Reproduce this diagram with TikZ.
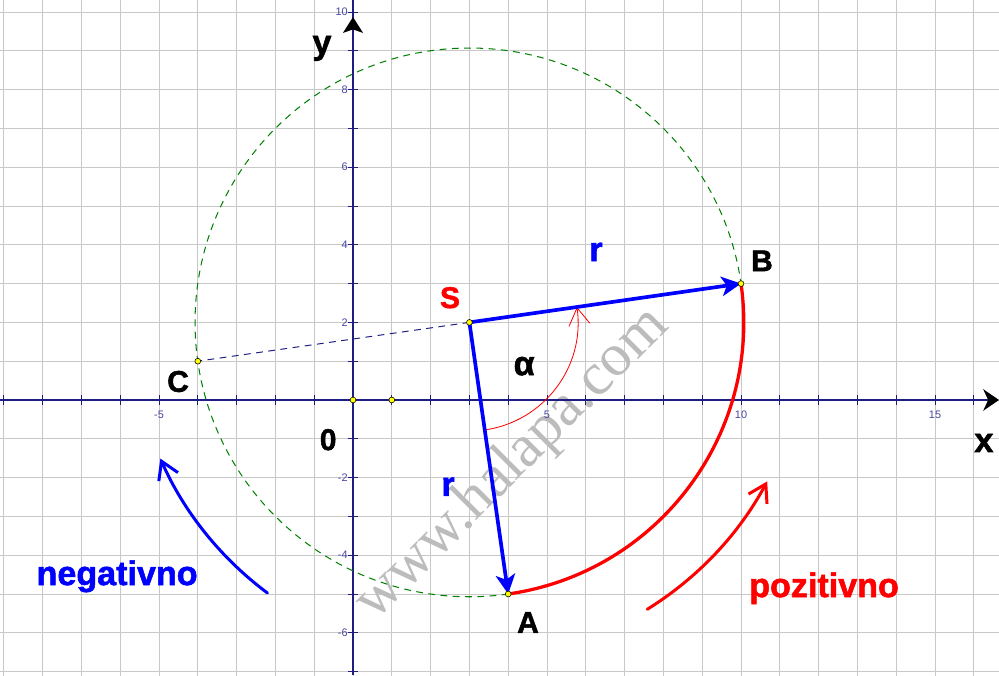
\documentclass[tikz,border=0pt]{standalone}
\usepackage{fontspec}
\setmainfont{Liberation Sans}
\newfontfamily\wmserif{Liberation Serif}
\newfontfamily\heavyfont[FakeBold=1.6]{Liberation Sans Bold}
\usetikzlibrary{arrows.meta}
\definecolor{gridc}{RGB}{200,200,200}
\definecolor{axisc}{RGB}{30,30,130}
\definecolor{tickc}{RGB}{70,70,160}
\definecolor{vecblue}{RGB}{0,0,255}
\definecolor{vecred}{RGB}{255,0,0}
\definecolor{circgreen}{RGB}{0,128,0}
\definecolor{wmgray}{RGB}{188,188,188}
\definecolor{ptyellow}{RGB}{255,255,0}
\begin{document}
\begin{tikzpicture}[x=1cm,y=1cm,
  gridline/.style={gridc,line width=0.6pt},
  axisline/.style={axisc,line width=0.8pt},
  tickline/.style={axisc,line width=0.7pt},
  xlab/.style={text=tickc,font=\fontsize{8}{9}\selectfont,anchor=center,inner sep=0pt},
  ylab/.style={text=tickc,font=\fontsize{8}{9}\selectfont,anchor=east,inner sep=0pt},
  pt/.style={circle,fill=ptyellow,draw=black,line width=0.4pt,inner sep=0pt,minimum size=0.15cm},
  biglbl/.style={font=\heavyfont\fontsize{22}{24}\selectfont,anchor=base,inner sep=0pt},
  axlbl/.style={font=\heavyfont\fontsize{25}{28}\selectfont,anchor=base,inner sep=0pt},
  wordlbl/.style={font=\heavyfont\fontsize{25}{28}\selectfont,anchor=base,inner sep=0pt},
  vecline/.style={vecblue,line width=2.7pt,-{Stealth[length=0.5cm,width=0.5cm,inset=0.13cm]}},
  barb/.style={-{Straight Barb[length=0.44cm,width=0.54cm]}},
  wmark/.style={text=wmgray,font=\wmserif\fontsize{44}{50}\selectfont,rotate=45,inner sep=0pt},
  dashthin/.style={line width=0.75pt,dash pattern=on 5pt off 4pt}
]
\useasboundingbox (-9.098,-7.088) rectangle (16.649,10.309);
\begin{scope}
\clip (-9.098,-7.088) rectangle (16.649,10.309);
\draw[gridline] (-10,-8) grid (17,11);
\end{scope}

% watermark
\node[wmark] (wm) at (4.12,-1.66) {www.halapa.com};

% axes
\draw[axisline] (-9.098,0) -- (16.5,0);
\draw[axisline] (0,-7.088) -- (0,10.309);
\foreach \i in {-9,...,16} \draw[tickline] (\i,-0.12) -- (\i,0.12);
\foreach \j in {-7,...,10} \draw[tickline] (-0.13,\j) -- (0.13,\j);
\fill[black] (16.649,0) -- (16.24,0.28) -- (16.37,0) -- (16.24,-0.28) -- cycle;
\fill[black] (0,9.87) -- (-0.26,9.46) -- (0,9.55) -- (0.26,9.46) -- cycle;

% tick labels
\foreach \v in {5,10,15} \node[xlab] at (\v,-0.39) {\v};
\node[xlab] at (-5,-0.39) {-5};
\foreach \v in {2,4,6,8,10} \node[ylab] at (-0.13,\v) {\v};
\foreach \v in {2,4,6} \node[ylab] at (-0.13,-\v) {-\v};

% points
\coordinate (S) at (3,2);
\coordinate (A) at (4,-5);
\coordinate (B) at (10,3);
\coordinate (C) at (-4,1);
\coordinate (O) at (0,0);
\coordinate (E) at (1,0);

% circle
\draw[circgreen,dashthin] (S) circle ({sqrt(50)});
% S-C dashed
\draw[axisc,dashthin] (S) -- (C);

% red arc A -> B
\draw[vecred,line width=2.4pt] (A) arc[start angle=-81.87,end angle=8.13,radius={sqrt(50)}];

% angle arc
\coordinate (a1) at (3.396,-0.772);
\draw[vecred,line width=0.6pt,barb] (a1) arc[start angle=-81.87,end angle=8.13,radius=2.8];

% vectors
\draw[vecline] (S) -- (B);
\draw[vecline] (S) -- (A);

% rotation arrows
\coordinate (n1) at (-2.204,-4.975);
\draw[vecblue,line width=2.2pt,barb,line cap=round] (n1) arc[start angle=233.3,end angle=203.8,radius=8.7];
\coordinate (p1) at (7.584,-5.394);
\draw[vecred,line width=2.2pt,barb,line cap=round] (p1) arc[start angle=-58.2,end angle=-28.1,radius=8.7];

% points on top
\foreach \p in {S,A,B,C,O,E} \node[pt] at (\p) {};

% labels
\node[axlbl] (ly) at (-0.80,8.92) {y};
\node[axlbl] (lx) at (16.26,-1.34) {x};
\node[biglbl] (l0) at (-0.64,-1.29) {0};
\node[biglbl] (lC) at (-4.51,0.21) {C};
\node[biglbl,text=vecred] (lS) at (2.50,2.37) {S};
\node[biglbl] (lB) at (10.54,3.32) {B};
\node[biglbl] (lA) at (4.51,-6.0) {A};
\node[axlbl,text=vecblue] (r1) at (6.26,3.58) {r};
\node[axlbl,text=vecblue] (r2) at (2.45,-2.47) {r};
\node[axlbl] (alpha) at (4.41,0.64) {α};
\node[wordlbl,text=vecblue] (neg) at (-6.08,-4.77) {negativno};
\node[wordlbl,text=vecred] (poz) at (12.14,-5.08) {pozitivno};
\end{tikzpicture}
\end{document}
